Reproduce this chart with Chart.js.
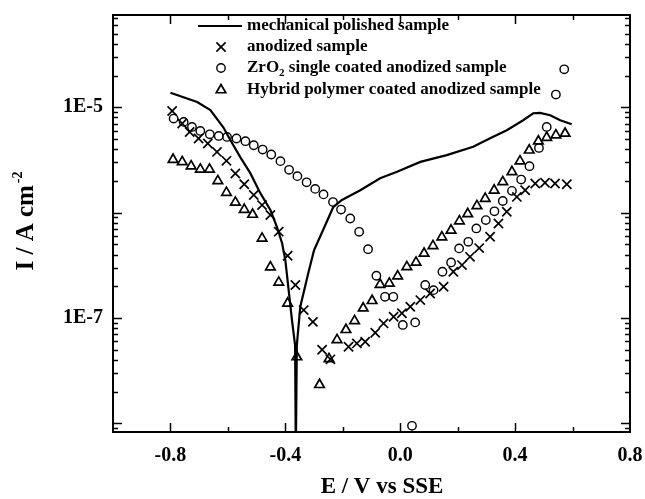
<!DOCTYPE html>
<html>
<head>
<meta charset="utf-8">
<script src="https://cdn.jsdelivr.net/npm/chart.js@4.4.1/dist/chart.umd.min.js"></script>
<style>
  html, body { margin: 0; padding: 0; background: #fff; }
</style>
</head>
<body>
<canvas id="chart" width="645" height="499"></canvas>
<script>
// Polarisation curves, E (V vs SSE) against I (A cm-2)
const seriesNames = [
    'mechanical polished sample',
    'anodized sample',
    'ZrO2 single coated anodized sample',
    'Hybrid polymer coated anodized sample'
];

const polishedE = [-0.800, -0.707, -0.661, -0.616, -0.591, -0.557, -0.522, -0.487, -0.452, -0.429, -0.411, -0.400,
    -0.377, -0.366, -0.3635, -0.360, -0.348, -0.320, -0.300, -0.267, -0.233, -0.203, -0.139, -0.070, -0.011,
    0.070, 0.162, 0.254, 0.313, 0.371, 0.428, 0.463, 0.487, 0.522, 0.557, 0.597];
const polishedI = [1.37e-5, 1.12e-5, 9.4e-6, 6.45e-6, 4.87e-6, 3.36e-6, 2.37e-6, 1.53e-6, 1.06e-6, 7.3e-7, 5.1e-7, 3.55e-7,
    9.6e-8, 5.5e-8, 5e-9, 5.5e-8, 1.28e-7, 2.67e-7, 4.4e-7, 7.0e-7, 1.13e-6, 1.32e-6, 1.63e-6, 2.12e-6, 2.44e-6,
    3.03e-6, 3.51e-6, 4.21e-6, 5.08e-6, 6.05e-6, 7.53e-6, 8.77e-6, 8.83e-6, 8.4e-6, 7.53e-6, 6.9e-6];

const anodizedE = [-0.794, -0.759, -0.733, -0.702, -0.670, -0.638, -0.605, -0.574, -0.543, -0.510, -0.481, -0.452,
    -0.423, -0.392, -0.365, -0.336, -0.304, -0.272, -0.243, -0.180, -0.151, -0.122, -0.087, -0.058, -0.023,
    0.006, 0.035, 0.070, 0.104, 0.151, 0.185, 0.215, 0.243, 0.275, 0.313, 0.342, 0.371, 0.406, 0.435, 0.470,
    0.504, 0.539, 0.580];
const anodizedI = [9.2e-6, 7.0e-6, 5.83e-6, 5.05e-6, 4.53e-6, 3.77e-6, 3.1e-6, 2.35e-6, 1.86e-6, 1.47e-6, 1.18e-6, 9.5e-7,
    6.6e-7, 3.9e-7, 2.06e-7, 1.19e-7, 9.2e-8, 5.0e-8, 4.06e-8, 5.35e-8, 5.75e-8, 5.96e-8, 7.26e-8, 8.9e-8, 1.03e-7,
    1.11e-7, 1.28e-7, 1.48e-7, 1.71e-7, 1.98e-7, 2.75e-7, 3.18e-7, 3.81e-7, 4.61e-7, 5.9e-7, 7.9e-7, 1.02e-6, 1.41e-6,
    1.63e-6, 1.89e-6, 1.92e-6, 1.89e-6, 1.86e-6];

const zro2E = [-0.789, -0.754, -0.725, -0.696, -0.663, -0.632, -0.603, -0.570, -0.539, -0.510, -0.479, -0.449,
    -0.417, -0.387, -0.358, -0.326, -0.296, -0.267, -0.234, -0.206, -0.174, -0.143, -0.112, -0.083, -0.053,
    -0.024, 0.009, 0.041, 0.052, 0.087, 0.116, 0.147, 0.177, 0.205, 0.237, 0.265, 0.298, 0.328, 0.357, 0.389,
    0.421, 0.450, 0.483, 0.510, 0.542, 0.571];
const zro2I = [7.8e-6, 7.26e-6, 6.5e-6, 5.96e-6, 5.54e-6, 5.34e-6, 5.23e-6, 5.05e-6, 4.76e-6, 4.36e-6, 3.97e-6, 3.56e-6,
    3.08e-6, 2.55e-6, 2.22e-6, 1.94e-6, 1.68e-6, 1.49e-6, 1.26e-6, 1.07e-6, 8.8e-7, 6.58e-7, 4.5e-7, 2.52e-7, 1.59e-7,
    1.59e-7, 8.6e-8, 9.5e-9, 9.1e-8, 2.06e-7, 1.84e-7, 2.75e-7, 3.37e-7, 4.58e-7, 5.29e-7, 7.08e-7, 8.5e-7, 1.03e-6,
    1.29e-6, 1.61e-6, 2.06e-6, 2.76e-6, 4.11e-6, 6.5e-6, 1.32e-5, 2.29e-5];

const hybridE = [-0.791, -0.759, -0.728, -0.696, -0.664, -0.635, -0.605, -0.574, -0.543, -0.514, -0.481, -0.452,
    -0.423, -0.392, -0.360, -0.281, -0.248, -0.220, -0.189, -0.159, -0.129, -0.098, -0.070, -0.038, -0.009,
    0.023, 0.055, 0.083, 0.114, 0.145, 0.177, 0.206, 0.235, 0.267, 0.296, 0.327, 0.357, 0.389, 0.417, 0.449,
    0.481, 0.510, 0.542, 0.574];
const hybridI = [3.19e-6, 3.03e-6, 2.76e-6, 2.57e-6, 2.57e-6, 2.0e-6, 1.55e-6, 1.25e-6, 1.07e-6, 9.6e-7, 5.7e-7, 3.04e-7,
    2.18e-7, 1.38e-7, 4.27e-8, 2.33e-8, 4.1e-8, 6.2e-8, 7.75e-8, 9.4e-8, 1.24e-7, 1.46e-7, 2.08e-7, 2.13e-7, 2.5e-7,
    3.06e-7, 3.37e-7, 4.1e-7, 4.84e-7, 5.86e-7, 6.8e-7, 8.3e-7, 9.75e-7, 1.16e-6, 1.36e-6, 1.63e-6, 1.96e-6, 2.44e-6,
    3.08e-6, 3.91e-6, 4.76e-6, 5.16e-6, 5.43e-6, 5.64e-6];

// axes
const xMin = -1.0, xMax = 0.8;
const xTickValues = [-0.8, -0.4, 0.0, 0.4, 0.8];
const xTickLabels = ['-0.8', '-0.4', '0.0', '0.4', '0.8'];
const xMinorValues = [-0.6, -0.2, 0.2, 0.6];
const yMin = 8.3e-9, yMax = 7.5e-5;
const yTickValues = [1e-5, 1e-7];
const yTickLabels = ['1E-5', '1E-7'];

const serif = '"Liberation Serif", "Times New Roman", serif';

function toPoints(xs, ys) {
    return xs.map((x, i) => ({ x: x, y: ys[i] }));
}

function sameValue(a, b) {
    return Math.abs(a - b) <= Math.abs(b) * 1e-6 + 1e-12;
}

const markerStyles = [
    null,
    { pointStyle: 'crossRot', radius: 6.5, borderWidth: 1.7 },
    { pointStyle: 'circle', radius: 4.2, borderWidth: 1.4 },
    { pointStyle: 'triangle', radius: 5.5, borderWidth: 1.7 }
];

// frame, inward ticks, axis titles and legend
const decorPlugin = {
    id: 'decor',
    afterDraw(chart) {
        const ctx = chart.ctx;
        const a = chart.chartArea;
        const xs = chart.scales.x;
        const ys = chart.scales.y;
        ctx.save();
        ctx.strokeStyle = '#000';
        ctx.fillStyle = '#000';

        // ticks on all four sides, pointing in
        ctx.lineWidth = 1.5;
        ctx.beginPath();
        xs.ticks.forEach(t => {
            const px = Math.round(xs.getPixelForValue(t.value)) + 0.5;
            if (px <= a.left + 1 || px >= a.right - 1) return;
            const len = xTickValues.some(v => sameValue(t.value, v)) ? 9 : 5;
            ctx.moveTo(px, a.bottom); ctx.lineTo(px, a.bottom - len);
            ctx.moveTo(px, a.top); ctx.lineTo(px, a.top + len);
        });
        ys.ticks.forEach(t => {
            const py = Math.round(ys.getPixelForValue(t.value)) + 0.5;
            if (py <= a.top + 1 || py >= a.bottom - 1) return;
            const lg = Math.log10(t.value);
            const len = Math.abs(lg - Math.round(lg)) < 1e-6 ? 9 : 5;
            ctx.moveTo(a.left, py); ctx.lineTo(a.left + len, py);
            ctx.moveTo(a.right, py); ctx.lineTo(a.right - len, py);
        });
        ctx.stroke();

        ctx.lineWidth = 2;
        ctx.strokeRect(a.left, a.top, a.right - a.left, a.bottom - a.top);

        // x title
        ctx.font = 'bold 23px ' + serif;
        ctx.textAlign = 'center';
        ctx.textBaseline = 'middle';
        ctx.fillText('E / V vs SSE', 382, 487);

        // y title with superscript, rotated
        ctx.save();
        ctx.translate(27, 221);
        ctx.rotate(-Math.PI / 2);
        ctx.textAlign = 'left';
        ctx.font = 'bold 25px ' + serif;
        const mainText = 'I / A cm';
        const w1 = ctx.measureText(mainText).width;
        ctx.font = 'bold 14px ' + serif;
        const supText = '-2';
        const w2 = ctx.measureText(supText).width;
        const start = -(w1 + w2 + 2) / 2;
        ctx.font = 'bold 25px ' + serif;
        ctx.fillText(mainText, start, 0);
        ctx.font = 'bold 14px ' + serif;
        ctx.fillText(supText, start + w1 + 2, -9);
        ctx.restore();

        // legend
        const rowY = [26, 47, 68, 90];
        const symX = 221;
        const textX = 247;
        ctx.textAlign = 'left';
        ctx.textBaseline = 'middle';
        ctx.font = 'bold 17px ' + serif;
        rowY.forEach((y, i) => {
            if (i === 0) {
                ctx.lineWidth = 2;
                ctx.beginPath();
                ctx.moveTo(198, y); ctx.lineTo(242, y);
                ctx.stroke();
            } else {
                const m = markerStyles[i];
                ctx.lineWidth = m.borderWidth;
                ctx.fillStyle = 'rgba(0,0,0,0)';
                Chart.helpers.drawPoint(ctx, { pointStyle: m.pointStyle, radius: m.radius, rotation: 0, borderWidth: m.borderWidth }, symX, y);
                ctx.fillStyle = '#000';
            }
            const name = seriesNames[i];
            if (name.startsWith('ZrO2')) {
                ctx.font = 'bold 17px ' + serif;
                ctx.fillText('ZrO', textX, y);
                let x = textX + ctx.measureText('ZrO').width;
                ctx.font = 'bold 11px ' + serif;
                ctx.fillText('2', x, y + 5);
                x += ctx.measureText('2').width;
                ctx.font = 'bold 17px ' + serif;
                ctx.fillText(name.slice(4), x, y);
            } else {
                ctx.fillText(name, textX, y);
            }
        });
        ctx.restore();
    }
};

function markerDataset(label, xs, ys, m) {
    return {
        label: label,
        data: toPoints(xs, ys),
        showLine: false,
        pointStyle: m.pointStyle,
        pointRadius: m.radius,
        pointBorderWidth: m.borderWidth,
        pointBorderColor: '#000',
        pointBackgroundColor: 'rgba(0,0,0,0)',
        pointHoverRadius: m.radius
    };
}

new Chart(document.getElementById('chart').getContext('2d'), {
    type: 'scatter',
    data: {
        datasets: [
            {
                label: seriesNames[0],
                data: toPoints(polishedE, polishedI),
                showLine: true,
                borderColor: '#000',
                borderWidth: 2.2,
                pointRadius: 0,
                tension: 0
            },
            markerDataset(seriesNames[1], anodizedE, anodizedI, markerStyles[1]),
            markerDataset(seriesNames[2], zro2E, zro2I, markerStyles[2]),
            markerDataset(seriesNames[3], hybridE, hybridI, markerStyles[3])
        ]
    },
    options: {
        responsive: false,
        animation: false,
        events: [],
        layout: { padding: { left: 0, right: 15, top: 15, bottom: 0 } },
        plugins: {
            legend: { display: false },
            tooltip: { enabled: false }
        },
        scales: {
            x: {
                type: 'linear',
                min: xMin,
                max: xMax,
                grid: { display: false, drawTicks: false },
                border: { display: false },
                afterBuildTicks: s => {
                    s.ticks = xTickValues.concat(xMinorValues).sort((p, q) => p - q).map(v => ({ value: v }));
                },
                afterFit: s => {
                    s.height = 67;
                    s.paddingLeft = 0;
                    s.paddingRight = 0;
                },
                ticks: {
                    autoSkip: false,
                    maxRotation: 0,
                    padding: 12,
                    color: '#000',
                    font: { family: serif, size: 20, weight: 'bold' },
                    callback: v => {
                        const i = xTickValues.findIndex(t => sameValue(v, t));
                        return i >= 0 ? xTickLabels[i] : '';
                    }
                }
            },
            y: {
                type: 'logarithmic',
                min: yMin,
                max: yMax,
                grid: { display: false, drawTicks: false },
                border: { display: false },
                afterBuildTicks: s => {
                    const ticks = [];
                    for (let e = -9; e <= -5; e++) {
                        for (let k = 1; k <= 9; k++) {
                            const v = k * Math.pow(10, e);
                            if (v >= yMin && v <= yMax) ticks.push({ value: v });
                        }
                    }
                    s.ticks = ticks;
                },
                afterFit: s => {
                    s.width = 113;
                    s.paddingTop = 0;
                    s.paddingBottom = 0;
                },
                ticks: {
                    autoSkip: false,
                    padding: 10,
                    color: '#000',
                    font: { family: serif, size: 20, weight: 'bold' },
                    callback: v => {
                        const i = yTickValues.findIndex(t => sameValue(v, t));
                        return i >= 0 ? yTickLabels[i] : '';
                    }
                }
            }
        }
    },
    plugins: [decorPlugin]
});
</script>
</body>
</html>
